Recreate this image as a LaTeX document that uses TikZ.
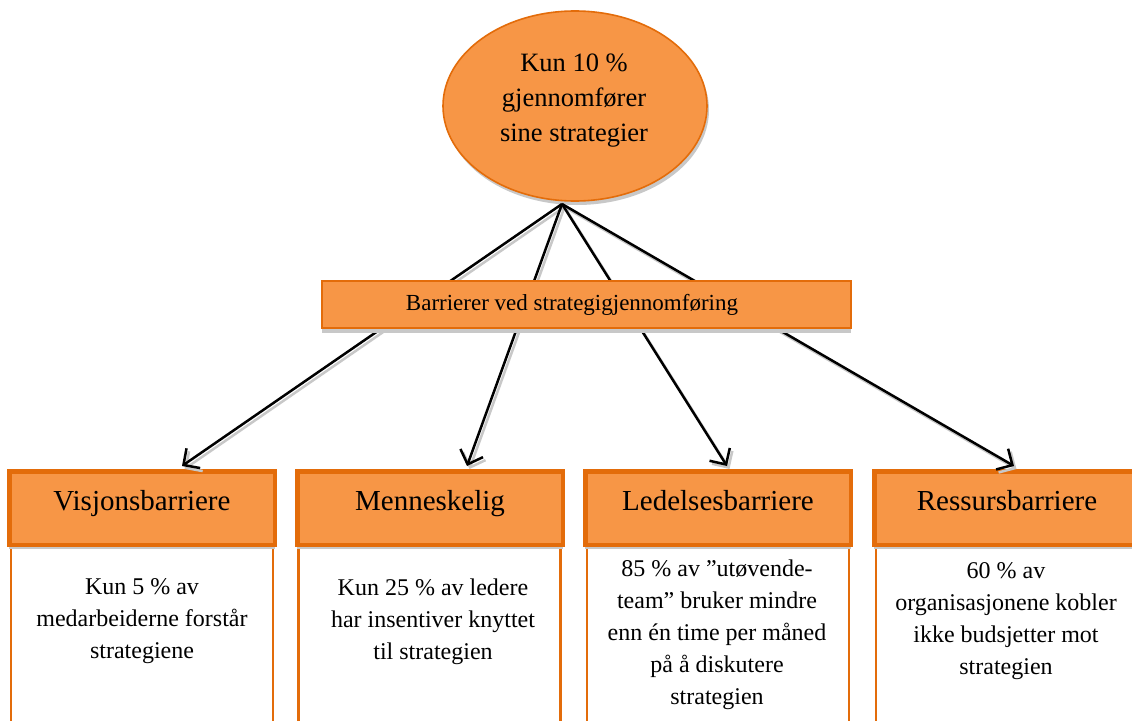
\documentclass[tikz,border=0pt]{standalone}
\usepackage{fontspec}
\setmainfont{Liberation Serif}
\usetikzlibrary{shapes.geometric,arrows.meta,shadows,calc}

\definecolor{orfill}{HTML}{F79646}
\definecolor{dkor}{HTML}{E36C0A}
\definecolor{shadowgray}{HTML}{C8C8C8}

\tikzset{
  topell/.style={ellipse, draw=dkor, line width=1.6pt, fill=orfill,
    minimum width=264pt, minimum height=190pt, inner sep=0pt,
    drop shadow={shadow xshift=2pt, shadow yshift=-4pt, fill=shadowgray, opacity=1}},
  barbox/.style={rectangle, draw=dkor, line width=1.6pt, fill=orfill,
    minimum width=529pt, minimum height=47pt, inner sep=0pt,
    drop shadow={shadow xshift=0pt, shadow yshift=-5pt, fill=shadowgray, opacity=1}},
  hdr/.style={rectangle, draw=dkor, line width=4.5pt, fill=orfill,
    minimum width=265.5pt, minimum height=73.5pt, inner sep=0pt,
    font=\fontsize{29}{34}\selectfont, text height=22pt, text depth=18pt,
    drop shadow={shadow xshift=0pt, shadow yshift=-4pt, fill=shadowgray, opacity=1}},
  bodybox/.style={rectangle, draw=dkor, line width=2.2pt, fill=white,
    minimum width=262pt, minimum height=240pt, inner sep=0pt, anchor=north},
  bodytext/.style={align=center, inner sep=0pt, font=\fontsize{24}{32}\selectfont},
  eltext/.style={align=center, inner sep=0pt, font=\fontsize{26.5}{35}\selectfont},
  bartext/.style={inner sep=0pt, font=\fontsize{23}{27}\selectfont},
  arr/.style={draw=black, line width=2.5pt,
    -{Straight Barb[length=12pt,width=24pt,line width=2.5pt]}},
  arrshade/.style={draw=shadowgray, line width=2.5pt,
    -{Straight Barb[length=12pt,width=24pt,line width=2.5pt]},
    transform canvas={shift={(2.5pt,-3pt)}}},
}

\begin{document}
\begin{tikzpicture}[x=1pt,y=1pt]
\useasboundingbox (0,0) rectangle (1132,-720);
\clip (0,0) rectangle (1132,-720);

% lower text boxes
\node[bodybox] (b1) at (142,-546) {};
\node[bodybox] (b2) at (429.5,-546) {};
\node[bodybox] (b3) at (718,-546) {};
\node[bodybox] (b4) at (1007,-546) {};

% category headers
\node[hdr] (h1) at (142,-508) {Visjonsbarriere};
\node[hdr] (h2) at (430,-508) {Menneskelig};
\node[hdr] (h3) at (718,-508) {Ledelsesbarriere};
\node[hdr] (h4) at (1007,-508) {Ressursbarriere};

% box contents
\node[bodytext] (t1) at (142,-621) {Kun 5 \% av\\medarbeiderne forstår\\strategiene};
\node[bodytext] (t2) at (433,-622) {Kun 25 \% av ledere\\har insentiver knyttet\\til strategien};
\node[bodytext] (t3) at (717,-635) {85 \% av ”utøvende-\\team” bruker mindre\\enn én time per måned\\på å diskutere\\strategien};
\node[bodytext] (t4) at (1006,-621.5) {60 \% av\\organisasjonene kobler\\ikke budsjetter mot\\strategien};

% top ellipse
\node[topell] (top) at (575,-106) {};
\node[eltext] (toptext) at (574,-101) {Kun 10 \%\\gjennomfører\\sine strategier};
\coordinate (apex) at (562,-204);

% connectors with their shadows
\foreach \h/\dx in {h1/40, h2/37, h3/9, h4/7} {
  \draw[arrshade] (apex) -- ([xshift=\dx pt, yshift=3pt]\h.north);
}
\foreach \h/\dx in {h1/40, h2/37, h3/9, h4/7} {
  \draw[arr] (apex) -- ([xshift=\dx pt, yshift=3pt]\h.north);
}

% middle bar over the connectors
\node[barbox] (bar) at (586.5,-304.5) {};
\node[bartext] (bartxt) at (572,-305) {Barrierer ved strategigjennomføring};
\end{tikzpicture}
\end{document}
